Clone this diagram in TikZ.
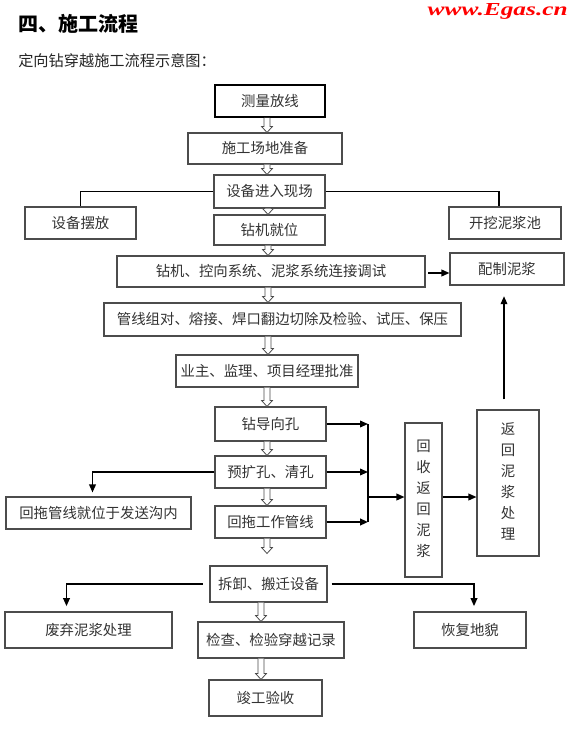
\documentclass[tikz,border=0pt]{standalone}
\usepackage{fontspec}
\usepackage{graphicx}
\setmainfont{Liberation Serif}
\newfontfamily\cjk{Noto Sans CJK SC}
\usetikzlibrary{arrows.meta,calc}
\tikzset{
  box/.style={draw=black!70, line width=0.8pt, fill=white, inner sep=0pt, align=center,
    font=\cjk\fontsize{10.8pt}{13pt}\selectfont, text=black!80},
  vbox/.style={font=\cjk\fontsize{10.8pt}{15.75pt}\selectfont},
  conn/.style={draw=black, line width=1.1pt},
  arr/.style={conn, -{Triangle[length=6pt,width=5pt]}},
  hollow/.style={draw=black!70, line width=0.6pt, fill=white},
}
\newcommand\mybox[7][]{\node[box,#1, minimum width={(#5-#3)*0.75pt}, minimum height={(#6-#4)*0.75pt}] (#2) at ({(#3+#5)/2},{(#4+#6)/2}) {#7};}
\newcommand\vstack[2]{\raisebox{#1}{\begin{tabular}{@{}c@{}}#2\end{tabular}}}
% hollow block arrow: [gap] from, to, x(px)
\newcommand\harrow[4][0]{\path[hollow] let \p1=(#2.south), \p2=(#3.north), \p3=(#4,0) in
  (\x3-2.25pt,\y1) -- (\x3-2.25pt,{\y2+#1*0.75pt+4.5pt}) -- (\x3-4.1pt,{\y2+#1*0.75pt+4.5pt}) -- (\x3,{\y2+#1*0.75pt})
  -- (\x3+4.1pt,{\y2+#1*0.75pt+4.5pt}) -- (\x3+2.25pt,{\y2+#1*0.75pt+4.5pt}) -- (\x3+2.25pt,\y1);}
\begin{document}
\begin{tikzpicture}[x=0.75pt,y=-0.75pt]
\useasboundingbox[fill=white] (0,0) rectangle (574,738);
% header
\node[anchor=west, inner sep=0pt, font=\cjk\bfseries\fontsize{15pt}{18pt}\selectfont] (title) at (18,24) {四、施工流程};
\node[anchor=west, inner sep=0pt, font=\cjk\fontsize{11.4pt}{14pt}\selectfont, text=black!85] (sub) at (18,61) {定向钻穿越施工流程示意图：};
\node[anchor=east, inner sep=0pt, text=red] (wm) at (568,11) {\resizebox{105pt}{9pt}{\bfseries\itshape www.Egas.cn}};
% boxes
\mybox[line width=1.2pt, draw=black]{m1}{215}{85}{325}{117}{测量放线}
\mybox{prep}{188}{133}{342}{164}{施工场地准备}
\mybox{dev}{214}{175}{325}{208}{设备进入现场}
\mybox{bf}{25}{207}{136}{239}{设备摆放}
\mybox{pool}{449}{207}{561}{239}{开挖泥浆池}
\mybox{pos}{214}{215}{325}{245}{钻机就位}
\mybox{ctrl}{117}{256}{425}{287}{钻机、控向系统、泥浆系统连接调试}
\mybox{mix}{450}{253}{564}{285}{配制泥浆}
\mybox{pl}{104}{303}{461}{336}{管线组对、熔接、焊口翻边切除及检验、试压、保压}
\mybox{own}{176}{355}{358}{387}{业主、监理、项目经理批准}
\mybox{g1}{215}{407}{326}{441}{钻导向孔}
\mybox{g2}{215}{456}{326}{488}{预扩孔、清孔}
\mybox{g3}{215}{506}{326}{538}{回拖工作管线}
\mybox{pipe}{6}{497}{191}{529}{回拖管线就位于发送沟内}
\mybox[vbox]{rec}{405}{423}{442}{577}{\vstack{6pt}{回\\收\\返\\回\\泥\\浆}}
\mybox[vbox]{ret}{477}{410}{539}{556}{\vstack{2.5pt}{返\\回\\泥\\浆\\处\\理}}
\mybox{dis}{210}{566}{327}{602}{拆卸、搬迁设备}
\mybox{waste}{5}{612}{172}{648}{废弃泥浆处理}
\mybox{chk}{198}{622}{344}{658}{检查、检验穿越记录}
\mybox{rest}{414}{612}{526}{648}{恢复地貌}
\mybox{done}{209}{680}{322}{716}{竣工验收}
% hollow arrows along the main chain
\harrow{m1}{prep}{267}
\harrow{prep}{dev}{267}
\harrow{dev}{pos}{268}
\harrow{pos}{ctrl}{268}
\harrow{ctrl}{pl}{268}
\harrow{pl}{own}{268}
\harrow{own}{g1}{267}
\harrow{g1}{g2}{267}
\harrow{g2}{g3}{267}
\harrow[12]{g3}{dis}{267}
\harrow{dis}{chk}{261}
\harrow{chk}{done}{261}
% connectors
\draw[conn] (dev.west) -| (bf.north);
\draw[conn] (dev.east) -| ($(pool.north)+(-6,0)$);
\draw[arr, shorten <=2pt] (ctrl.east |- 0,273) -- (mix.west |- 0,273);
\draw[arr, shorten >=8pt] ($(ret.north)+(-4,-10)$) -- ($(ret.north |- mix.south)+(-4,0)$);
\coordinate (m) at (368,497);
\draw[arr] (g1.east) -- (g1.east -| m);
\draw[arr] (g2.east) -- (g2.east -| m);
\draw[arr, line width=1.6pt] (g3.east) -- (g3.east -| m);
\draw[conn] (g1.east -| m) -- (g3.east -| m);
\draw[arr] (m) -- (m -| rec.west);
\draw[arr] (m -| rec.east) -- (m -| ret.west);
\draw[arr, shorten >=3pt] (g2.west) -| ($(pipe.north)+(-6,0)$);
\draw[arr, shorten <=5pt, shorten >=4pt] (dis.west) -| ($(waste.north)+(-22,0)$);
\draw[arr, shorten <=3pt, shorten >=4pt] (dis.east) -| ($(rest.north)+(4,0)$);
\end{tikzpicture}
\end{document}
